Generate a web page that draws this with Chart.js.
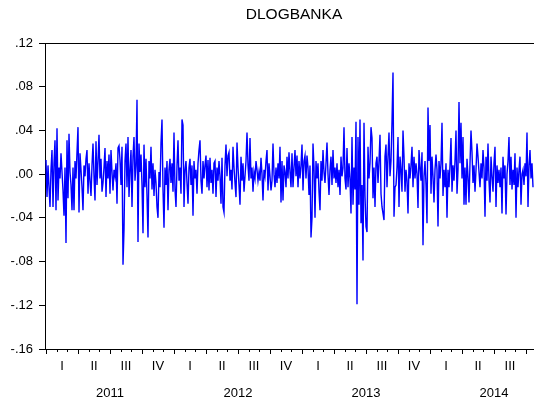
<!DOCTYPE html>
<html>
<head>
<meta charset="utf-8">
<script src="https://cdn.jsdelivr.net/npm/chart.js@4"></script>
<style>
  html, body { margin: 0; padding: 0; background: #fff; }
  canvas { display: block; }
</style>
</head>
<body>
<canvas id="chart" width="534" height="405"></canvas>
<script>
// Daily log-difference of the BANKA series, resampled to 32 observations per quarter
const seriesName = 'DLOGBANKA';
const yearLabels = ['2011', '2012', '2013', '2014'];
const quarterLabels = ['I', 'II', 'III', 'IV'];
const obsPerQuarter = 32;
const yMin = -0.16, yMax = 0.12, yStep = 0.04;

const dlogbanka = [
  .013,-.021,.008,-.012,-.030,.004,.022,-.030,.010,.031,-.033,.042,-.024,.006,-.004,.019,.002,-.015,-.038,.006,-.063,.031,-.022,.037,.002,-.010,-.033,.006,-.033,.012,-.004,.020,.043,-.035,.019,.004,-.012,-.033,.008,-.002,
  .014,.022,-.018,.010,-.006,-.020,.008,.028,-.002,-.024,.030,-.010,.012,.036,-.004,.014,-.016,-.008,.006,.024,-.021,.012,-.004,.018,-.018,.022,.002,-.015,.004,-.002,.010,-.027,.024,.026,.013,-.010,.025,-.083,-.051,.012,
  .028,-.012,.034,-.021,.004,.022,-.030,.016,.034,-.006,.008,.068,-.062,.028,.002,.018,-.010,-.054,.027,-.012,.014,-.020,-.058,.012,-.004,.025,-.014,.010,-.020,.004,-.008,-.030,-.040,.002,-.012,.029,.050,-.014,-.049,.006,
  -.010,.012,-.033,.004,.014,-.008,.010,-.016,.038,-.014,-.030,.008,.031,-.006,.006,-.018,.050,.045,-.030,.004,.012,-.008,-.027,.006,.014,-.010,.008,-.038,.012,-.004,.004,-.018,.010,.022,.031,-.006,-.018,.012,-.004,.008,
  .017,-.012,.013,-.015,.015,-.008,.004,-.018,.010,.012,-.021,.006,-.006,.012,-.002,-.027,.015,-.030,-.035,.008,.027,-.002,.017,.020,-.006,.004,-.014,.025,.006,-.008,-.021,.029,.006,-.010,-.028,.016,-.006,.010,-.016,-.002,
  .012,.038,.008,-.006,.033,-.004,.006,-.016,.002,-.004,.012,.004,-.006,.002,-.006,.015,.000,-.024,.004,-.002,.012,.022,-.015,.010,-.002,-.015,-.006,.028,.000,-.012,.006,-.008,.010,-.004,.025,-.026,.012,-.024,.008,.002,
  -.012,.016,-.004,.020,.002,-.012,.019,-.012,.006,.022,-.002,.017,-.012,.012,-.004,.008,.027,-.015,.012,.017,-.004,.017,.006,-.019,.008,-.058,-.040,.028,.006,-.040,.012,-.004,.010,-.016,-.033,.012,-.006,.022,.002,-.008,
  .010,.029,.000,-.019,.004,.016,-.010,.022,-.004,.006,-.008,.010,-.012,.004,-.019,.016,-.002,.006,.043,-.004,-.014,.024,-.012,.010,-.004,-.036,.034,-.028,.006,-.014,.048,-.119,.034,-.028,.050,-.045,-.010,-.079,.047,-.020,
  -.048,-.053,.025,-.004,.010,.043,.033,-.022,.006,-.030,.010,.016,-.008,.012,.036,-.018,-.030,-.036,-.042,.016,.027,-.012,.016,.038,-.002,.012,.048,.093,-.039,-.012,-.010,.006,.034,-.030,.016,.004,-.016,.040,.016,-.016,
  .004,-.006,-.036,.010,-.004,.008,.025,-.012,.016,-.004,.010,.000,-.031,.022,.006,-.006,.020,-.065,-.002,.012,-.010,-.045,.061,.012,.045,-.018,.016,-.002,-.026,.004,.018,.004,-.048,.012,-.004,.010,.047,-.020,.004,-.012,
  .010,-.040,.004,-.012,.008,.033,-.016,.008,-.006,.012,.040,-.018,.004,.066,.010,.047,-.004,.034,-.028,.006,-.028,.014,-.002,-.026,.010,.040,.020,-.008,.008,-.016,.004,.028,.016,.002,-.012,.010,-.004,.022,.006,-.039,
  .016,-.006,.028,-.006,-.026,.016,-.002,-.016,.010,.025,-.030,.008,-.008,.004,-.012,.006,-.036,.016,-.004,.008,-.037,.000,.012,.034,-.010,.016,-.014,.004,-.010,.019,-.040,.006,-.012,.004,.016,-.028,.000,.004,-.010,.010,-.002,.038,-.030,.008,.022,-.004,.010,-.012
];

const points = dlogbanka.map((v, i) => ({ x: i, y: v }));
const FONT = '"Liberation Sans", Arial, sans-serif';

// Title, top frame line, quarter/month ticks and period labels
const eviewsFrame = {
  id: 'eviewsFrame',
  afterDraw(chart) {
    const { ctx, chartArea: a, scales: { x } } = chart;
    ctx.save();
    ctx.strokeStyle = '#000';
    ctx.lineWidth = 1;
    ctx.beginPath();
    ctx.moveTo(a.left, a.top + 0.5);
    ctx.lineTo(a.right, a.top + 0.5);
    ctx.stroke();

    const nQuarters = yearLabels.length * 4;
    ctx.beginPath();
    for (let q = 0; q < nQuarters; q++) {
      for (let m = 0; m < 3; m++) {
        const v = (q + m / 3) * obsPerQuarter;
        if (v > x.max) continue;
        const px = Math.round(x.getPixelForValue(v)) + 0.5;
        ctx.moveTo(px, a.bottom);
        ctx.lineTo(px, a.bottom + (m === 0 ? 5 : 3));
      }
    }
    ctx.stroke();

    ctx.fillStyle = '#000';
    ctx.textAlign = 'center';
    ctx.textBaseline = 'middle';
    ctx.font = '13px ' + FONT;
    for (let q = 0; q < nQuarters; q++) {
      const c = (q + 0.5) * obsPerQuarter;
      if (c > x.max) continue;
      ctx.fillText(quarterLabels[q % 4], x.getPixelForValue(c), a.bottom + 17);
    }
    yearLabels.forEach((yl, k) => {
      const c = (k * 4 + 2) * obsPerQuarter;
      ctx.fillText(yl, x.getPixelForValue(Math.min(c, x.max)), a.bottom + 44);
    });

    ctx.font = '15.5px ' + FONT;
    ctx.textBaseline = 'alphabetic';
    ctx.fillText(seriesName, 294, 18.5);
    ctx.restore();
  }
};

new Chart(document.getElementById('chart'), {
  type: 'line',
  data: {
    datasets: [{
      label: seriesName,
      data: points,
      borderColor: '#0000ff',
      borderWidth: 1.4,
      pointRadius: 0,
      tension: 0,
      fill: false
    }]
  },
  options: {
    responsive: false,
    animation: false,
    devicePixelRatio: 1,
    parsing: false,
    layout: { padding: { top: 43, right: 0, bottom: 0, left: 0 } },
    plugins: { legend: { display: false }, tooltip: { enabled: false }, title: { display: false } },
    scales: {
      x: {
        type: 'linear',
        min: -1,
        max: 488,
        grid: { display: false },
        border: { display: true, color: '#000', width: 1 },
        ticks: { display: false },
        afterFit(s) { s.height = 56; }
      },
      y: {
        min: yMin,
        max: yMax,
        grid: { drawOnChartArea: false, drawTicks: true, tickLength: 6, color: '#000' },
        border: { display: true, color: '#000', width: 1 },
        ticks: {
          stepSize: yStep,
          padding: 6,
          color: '#000',
          font: { family: FONT, size: 13 },
          callback: v => v.toFixed(2).replace(/^(-?)0\./, '$1.')
        },
        afterFit(s) { s.width = 45; }
      }
    }
  },
  plugins: [eviewsFrame]
});
</script>
</body>
</html>
